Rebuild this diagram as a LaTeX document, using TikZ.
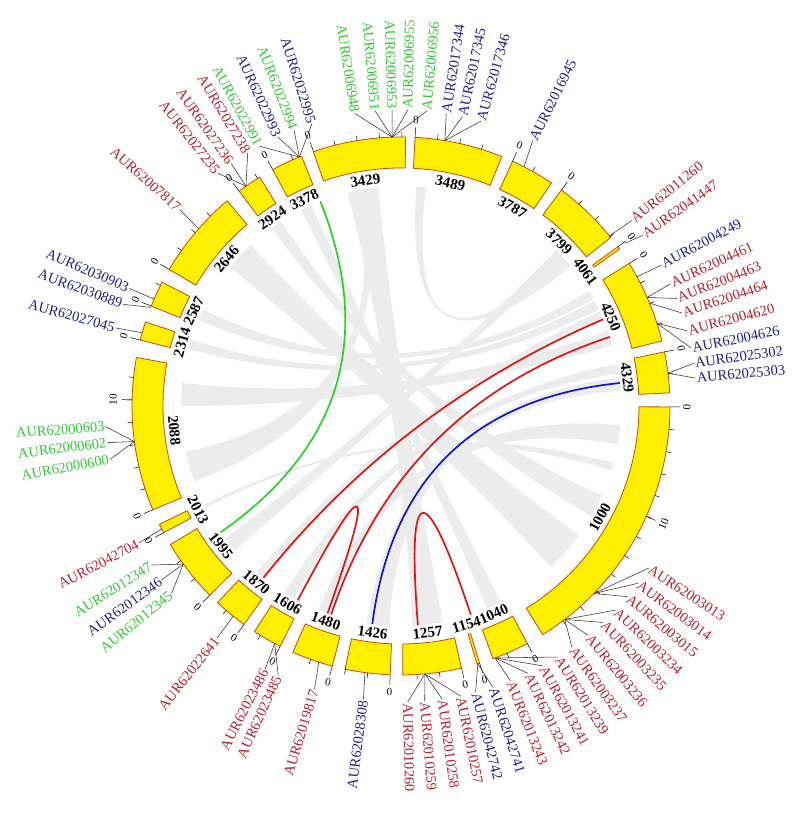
\documentclass[tikz,border=0pt]{standalone}
\usepackage{fontspec}
\setmainfont{Liberation Serif}
\definecolor{segfill}{RGB}{255,240,0}
\definecolor{segline}{RGB}{195,75,10}
\definecolor{gred}{RGB}{185,30,45}
\definecolor{gblue}{RGB}{30,30,140}
\definecolor{ggreen}{RGB}{50,200,50}
\definecolor{ribboncol}{RGB}{236,236,236}
\definecolor{lred}{RGB}{222,20,20}
\definecolor{lblue}{RGB}{20,20,200}
\definecolor{lgreen}{RGB}{40,210,40}
\begin{document}
\begin{tikzpicture}[x=1pt,y=1pt,
  seg/.style={fill=segfill,draw=segline,line width=0.8pt},
  tickline/.style={black,line width=0.5pt},
  ticklab/.style={font=\fontsize{11}{11}\selectfont,inner sep=0pt},
  numlab/.style={font=\bfseries\fontsize{15}{15}\selectfont,inner sep=0pt},
  genelab/.style={font=\fontsize{14.5}{15}\selectfont,inner sep=0pt},
  leader/.style={black!80,line width=0.55pt},
  ribbonfill/.style={fill=ribboncol},
  linkline/.style={line width=1.7pt}
]
\useasboundingbox (-401,-407) rectangle (399,406);
\coordinate (O) at (0,0);

% ---------- grey ribbons ----------
\foreach \a/\b/\c/\d in {141/133/-36/-47, 126/123/-24/-30, 117/114/-63/-67,
  104/96/-79/-87, 86/83.5/42/39.5, 31.5/29/-203/-206, 28.5/26/-195/-197.5,
  25.5/23/-128/-131, 20/16/-180/-186, 7.5/4/-93/-99, -160/-168/101.5/98.5,
  -139/-143/45/42, -119/-122/11/8.5, -109/-112/-5/-10, -152.4/-153.4/-15/-17}{
  \fill[ribbonfill] (\a:220pt) arc[start angle=\a,end angle=\b,radius=220pt]
    .. controls (\b:73.3pt) and (\c:73.3pt) .. (\c:220pt)
    arc[start angle=\c,end angle=\d,radius=220pt]
    .. controls (\d:73.3pt) and (\a:73.3pt) .. (\a:220pt) -- cycle;
}

% ---------- coloured links ----------
\draw[linkline,lgreen] (111.5:220pt) .. controls (111.5:73.3pt) and (215:73.3pt) .. (215:220pt);
\draw[linkline,lblue] (6:220pt) .. controls (6:73.3pt) and (262.5:73.3pt) .. (262.5:220pt);
\draw[linkline,lred] (23.2:220pt) .. controls (23.2:73.3pt) and (231.3:73.3pt) .. (231.3:220pt);
\draw[linkline,lred] (18.3:220pt) .. controls (18.3:73.3pt) and (251.5:73.3pt) .. (251.5:220pt);
\draw[linkline,lred] (242:220pt) .. controls (242:73.3pt) and (250.5:73.3pt) .. (250.5:220pt);
\draw[linkline,lred] (-85.6:220pt) .. controls (-85.6:73.3pt) and (-71.5:73.3pt) .. (-71.5:220pt);

% ---------- segments, ticks, numbers ----------
\foreach \a/\b/\n in {109/89/3429, 87/68/3489, 65.5/56/3787, 53.4/38.8/3799,
  36.3/35.7/4061, 32/14/4250, 11.6/2.8/4329, -0.2/-58.2/1000, -62/-70/1040,
  -73/-73.6/1154, -77/-89.6/1257, -92.3/-102/1426, -104.8/-113.7/1480,
  -116.7/-123/1606, -125.7/-133/1870, -135.3/-149/1995, -151.9/-153.9/2013,
  -157.3/-190.4/2088, -194.2/-198.2/2314, -201.8/-207.4/2587,
  -210.5/-229.7/2646, -233/-238.3/2924, -241.5/-248.3/3378}{
  \draw[seg] (\a:238pt) arc[start angle=\a,end angle=\b,radius=238pt]
    -- (\b:269pt) arc[start angle=\b,end angle=\a,radius=269pt] -- cycle;
  \foreach \t in {4.8,9.6,...,57.6}{
    \pgfmathtruncatemacro{\ok}{(\t<\a-\b)?1:0}
    \ifnum\ok=1 \draw[tickline] ({\a-\t}:269pt) -- ({\a-\t}:274pt);\fi
  }
  \draw[tickline] (\a:269pt) -- (\a:279pt);
  \node[ticklab,rotate={\a-90}] at (\a:286pt) {0};
  \pgfmathsetmacro{\m}{(\a+\b)/2}
  \pgfmathsetmacro{\rr}{sin(\m)>0 ? \m-90 : \m+90}
  \node[numlab,rotate=\rr] at (\m:228pt) {\n};
}
% major ticks "10"
\draw[tickline] (-24.2:269pt) -- (-24.2:279pt);
\node[ticklab,rotate=65.8] at (-24.2:288pt) {10};
\draw[tickline] (-181.3:269pt) -- (-181.3:279pt);
\node[ticklab,rotate=88.7] at (-181.3:288pt) {10};

% ---------- gene labels, right half ----------
\foreach \g/\l/\txt/\c in {
  91.9/88.7/AUR62006955/ggreen, 91.9/85.0/AUR62006956/ggreen,
  80.6/81.2/AUR62017344/gblue, 80.6/78.0/AUR62017345/gblue, 80.6/74.3/AUR62017346/gblue,
  62.8/63.6/AUR62016945/gblue, 39.2/38.8/AUR62011260/gred,
  28.7/28.4/AUR62004249/gblue, 23.8/24.4/AUR62004461/gred, 23.8/21.3/AUR62004463/gred,
  22.5/18.3/AUR62004464/gred, 17.9/14.7/AUR62004620/gred, 17.9/11.3/AUR62004626/gblue,
  7/8.3/AUR62025302/gblue, 7/5.4/AUR62025303/gblue,
  -44.2/-33.2/AUR62003013/gred, -44.2/-36.8/AUR62003014/gred, -44.2/-40.1/AUR62003015/gred,
  -52.5/-43.6/AUR62003234/gred, -52.5/-47/AUR62003235/gred, -52.5/-50.8/AUR62003236/gred,
  -52.5/-54.7/AUR62003237/gred, -69.5/-58/AUR62013239/gred, -69.5/-61.4/AUR62013241/gred,
  -69.5/-64.6/AUR62013242/gred, -69.5/-68.3/AUR62013243/gred,
  -73.4/-71.9/AUR62042741/gblue, -73.4/-75.4/AUR62042742/gblue,
  -84.9/-78.4/AUR62010257/gred, -84.9/-82/AUR62010258/gred,
  -84.9/-85.4/AUR62010259/gred, -84.9/-88.7/AUR62010260/gred}{
  \draw[leader] (\g:269pt) -- (\l:296pt);
  \node[genelab,text=\c,rotate=\l,anchor=west] at (\l:297pt) {\txt};
}
% special leader from the thin 4061 segment
\draw[leader] (36:277pt) -- (35.2:296pt);
\node[genelab,text=gred,rotate=35.2,anchor=west] at (35.2:297pt) {AUR62041447};

% ---------- gene labels, left half ----------
\foreach \g/\l/\txt/\c in {
  91.9/91.7/AUR62006953/ggreen, 91.9/95.0/AUR62006951/ggreen, 91.9/98.9/AUR62006948/ggreen,
  112.2/107.5/AUR62022995/gblue, 112.2/111.2/AUR62022994/ggreen,
  112.2/114.6/AUR62022993/gblue, 112.2/118.6/AUR62022991/ggreen,
  125.2/121.2/AUR62027238/gred, 125.2/125/AUR62027236/gred, 125.2/128.2/AUR62027235/gred,
  138.8/138.4/AUR62007817/gred, 156.6/156.6/AUR62030903/gblue,
  158.5/159.9/AUR62030889/gblue, 164.2/164.7/AUR62027045/gblue,
  187.6/184/AUR62000603/ggreen, 187.6/187.1/AUR62000602/ggreen, 187.6/190.4/AUR62000600/ggreen,
  207.2/207.6/AUR62042704/gred, 216/212.5/AUR62012347/ggreen,
  216/216/AUR62012346/gblue, 216/219.2/AUR62012345/ggreen,
  231.4/231.6/AUR62022641/gred, 242/242.7/AUR62023486/gred, 242/245.5/AUR62023485/gred,
  252.2/253/AUR62019817/gred, 262.3/262.7/AUR62028308/gblue}{
  \draw[leader] (\g:269pt) -- (\l:296pt);
  \node[genelab,text=\c,rotate={\l+180},anchor=east] at (\l:297pt) {\txt};
}
\end{tikzpicture}
\end{document}
